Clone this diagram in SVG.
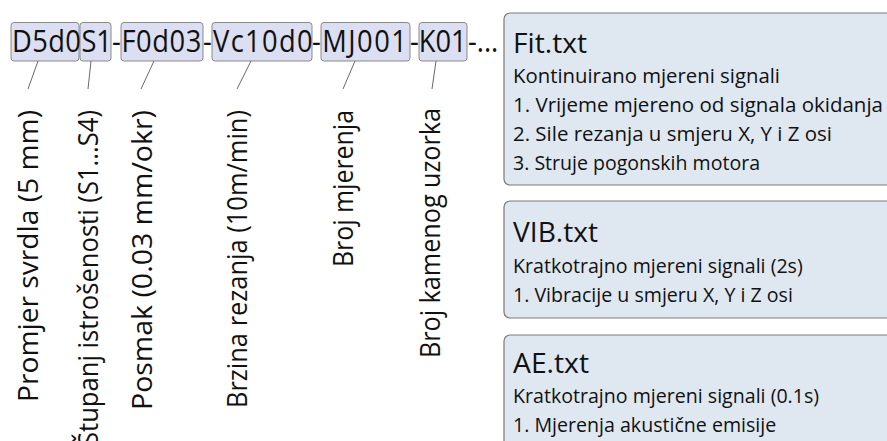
<svg xmlns="http://www.w3.org/2000/svg" width="887" height="441" viewBox="0 0 887 441">
  <style>
    .code { font-family: "Open Sans", "Noto Sans", sans-serif; font-size: 31px; fill: #111; }
    .cbox { fill: #dcdff2; stroke: #8a8a8a; stroke-width: 1; }
    .lbl { font-family: "Open Sans", "Noto Sans", sans-serif; font-size: 28px; fill: #111; text-anchor: end; }
    .fbox { fill: #dfe8f1; stroke: #7a7a7a; stroke-width: 1.2; }
    .ftitle { font-family: "Open Sans", "Noto Sans", sans-serif; font-size: 27px; fill: #111; }
    .fbody { font-family: "Open Sans", "Noto Sans", sans-serif; font-size: 19.6px; fill: #111; }
    .conn { stroke: #6a6a6a; stroke-width: 1; fill: none; }
  </style>
  <rect width="887" height="441" fill="#ffffff"/>

  <!-- code segments -->
  <g id="seg-d5d0">
    <rect class="cbox" x="11" y="22.5" width="68" height="38.5" rx="3"/>
  </g>
  <g id="seg-s1">
    <rect class="cbox" x="80" y="22.5" width="31" height="38.5" rx="3"/>
  </g>
  <g id="seg-f0d03">
    <rect class="cbox" x="121" y="22.5" width="82" height="38.5" rx="3"/>
  </g>
  <g id="seg-vc10d0">
    <rect class="cbox" x="212" y="22.5" width="100" height="38.5" rx="3"/>
  </g>
  <g id="seg-mj001">
    <rect class="cbox" x="321" y="22.5" width="89" height="38.5" rx="3"/>
  </g>
  <g id="seg-k01">
    <rect class="cbox" x="419" y="22.5" width="48" height="38.5" rx="3"/>
  </g>
  <g id="code-text">
    <text class="code" transform="scale(0.88 1)" y="52"><tspan x="13.6" letter-spacing="0.5">D5d0</tspan><tspan x="92.5">S1</tspan><tspan x="127.3" letter-spacing="0.7">-F0d03</tspan><tspan x="230.7" letter-spacing="1.5">-Vc10d0</tspan><tspan x="354.5" letter-spacing="1.7">-MJ001</tspan><tspan x="465.9">-K01</tspan><tspan x="531.8">-...</tspan></text>
  </g>

  <!-- connectors -->
  <g id="connectors">
    <line class="conn" x1="38" y1="61" x2="28" y2="89"/>
    <line class="conn" x1="91" y1="61" x2="88" y2="89"/>
    <line class="conn" x1="154" y1="61" x2="141" y2="89"/>
    <line class="conn" x1="251" y1="61" x2="237" y2="89"/>
    <line class="conn" x1="355" y1="61" x2="343" y2="89"/>
    <line class="conn" x1="436" y1="61" x2="432" y2="89"/>
  </g>

  <!-- rotated labels -->
  <g id="lbl-promjer">
    <text class="lbl" transform="translate(38,110) rotate(-90)" textLength="292" lengthAdjust="spacingAndGlyphs">Promjer svrdla (5 mm)</text>
  </g>
  <g id="lbl-stupanj">
    <text class="lbl" transform="translate(98,110) rotate(-90)" textLength="336" lengthAdjust="spacingAndGlyphs">Štupanj istrošenosti (S1...S4)</text>
  </g>
  <g id="lbl-posmak">
    <text class="lbl" transform="translate(152,110) rotate(-90)" textLength="300" lengthAdjust="spacingAndGlyphs">Posmak (0.03 mm/okr)</text>
  </g>
  <g id="lbl-brzina">
    <text class="lbl" transform="translate(247,110) rotate(-90)" textLength="298" lengthAdjust="spacingAndGlyphs">Brzina rezanja (10m/min)</text>
  </g>
  <g id="lbl-broj-mjerenja">
    <text class="lbl" transform="translate(353,110) rotate(-90)" textLength="157" lengthAdjust="spacingAndGlyphs">Broj mjerenja</text>
  </g>
  <g id="lbl-broj-uzorka">
    <text class="lbl" transform="translate(440,108) rotate(-90)" textLength="250" lengthAdjust="spacingAndGlyphs">Broj kamenog uzorka</text>
  </g>

  <!-- file boxes -->
  <g id="file-fit">
    <rect class="fbox" x="504" y="13" width="400" height="172" rx="6"/>
    <text class="ftitle" x="513" y="53" textLength="74" lengthAdjust="spacingAndGlyphs">Fit.txt</text>
    <text class="fbody" x="513" y="83" textLength="267" lengthAdjust="spacingAndGlyphs">Kontinuirano mjereni signali</text>
    <text class="fbody" x="513" y="112" textLength="370" lengthAdjust="spacingAndGlyphs">1. Vrijeme mjereno od signala okidanja</text>
    <text class="fbody" x="513" y="141" textLength="319" lengthAdjust="spacingAndGlyphs">2. Sile rezanja u smjeru X, Y i Z osi</text>
    <text class="fbody" x="513" y="170" textLength="247" lengthAdjust="spacingAndGlyphs">3. Struje pogonskih motora</text>
  </g>
  <g id="file-vib">
    <rect class="fbox" x="504" y="201" width="400" height="117" rx="6"/>
    <text class="ftitle" x="513" y="242" textLength="85" lengthAdjust="spacingAndGlyphs">VIB.txt</text>
    <text class="fbody" x="513" y="273">Kratkotrajno mjereni signali (2s)</text>
    <text class="fbody" x="513" y="302">1. Vibracije u smjeru X, Y i Z osi</text>
  </g>
  <g id="file-ae">
    <rect class="fbox" x="504" y="335" width="400" height="130" rx="6"/>
    <text class="ftitle" x="513" y="373" textLength="76" lengthAdjust="spacingAndGlyphs">AE.txt</text>
    <text class="fbody" x="513" y="403">Kratkotrajno mjereni signali (0.1s)</text>
    <text class="fbody" x="513" y="432">1. Mjerenja akustične emisije</text>
  </g>
</svg>
